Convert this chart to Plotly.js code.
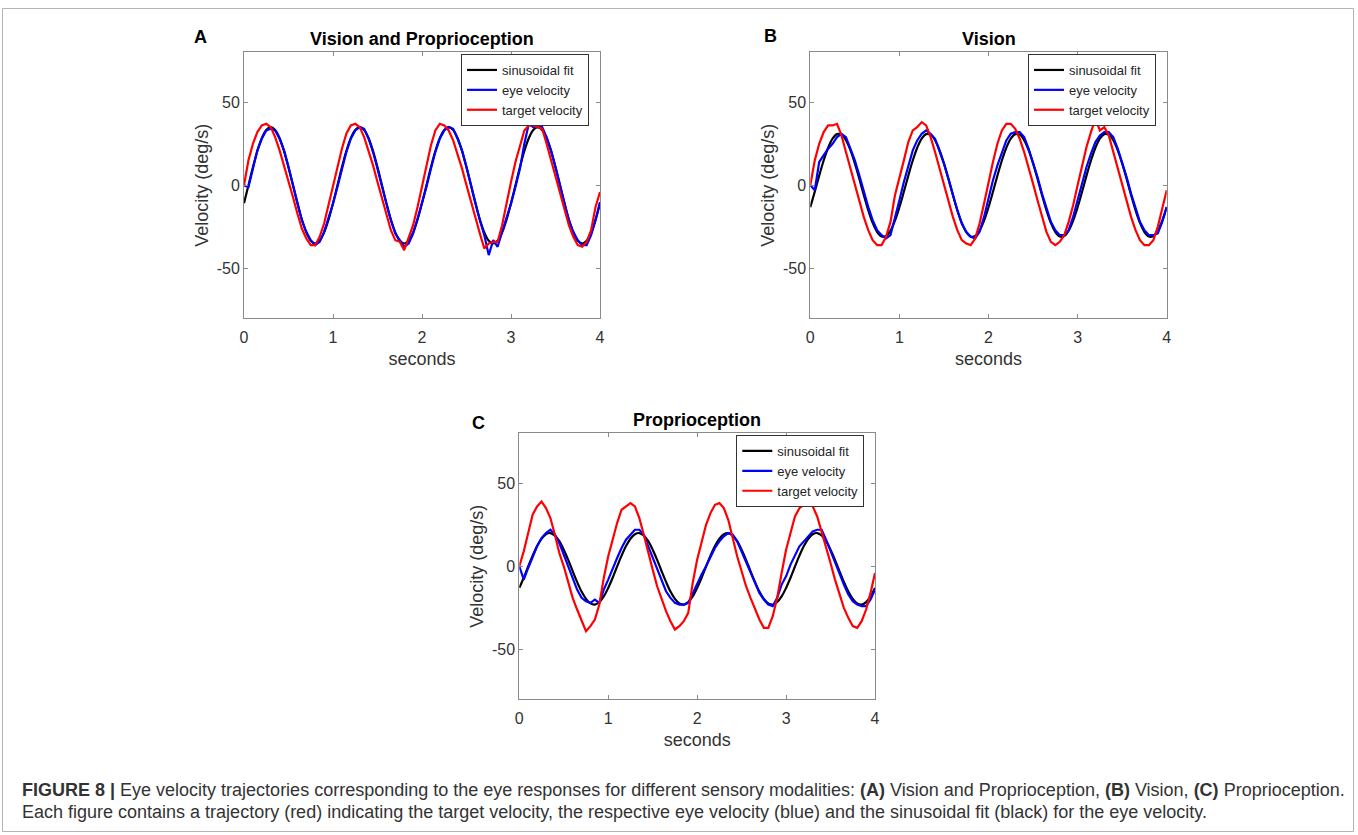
<!DOCTYPE html>
<html>
<head>
<meta charset="utf-8">
<script src="https://cdn.plot.ly/plotly-3.0.1.min.js"></script>
<style>
  html, body { margin: 0; padding: 0; background: #ffffff; }
  #chart { width: 1358px; height: 835px; }
</style>
</head>
<body>
<div id="chart"></div>
<script>
// ---------------- DATA ----------------
const seriesNames = ["sinusoidal fit", "eye velocity", "target velocity"];
const panelLetters = ["A", "B", "C"];
const panelTitles = ["Vision and Proprioception", "Vision", "Proprioception"];
const xTickVals = [0, 1, 2, 3, 4];
const yTickVals = [-50, 0, 50];
const xAxisLabel = "seconds";
const yAxisLabel = "Velocity (deg/s)";

const timeSec = [
  0,0.05,0.1,0.15,0.2,0.25,0.3,0.35,0.4,0.45,0.5,0.55,0.6,0.65,0.7,0.75,0.8,0.85,0.9,0.95,
  1,1.05,1.1,1.15,1.2,1.25,1.3,1.35,1.4,1.45,1.5,1.55,1.6,1.65,1.7,1.75,1.8,1.85,1.9,1.95,
  2,2.05,2.1,2.15,2.2,2.25,2.3,2.35,2.4,2.45,2.5,2.55,2.6,2.65,2.7,2.75,2.8,2.85,2.9,2.95,
  3,3.05,3.1,3.15,3.2,3.25,3.3,3.35,3.4,3.45,3.5,3.55,3.6,3.65,3.7,3.75,3.8,3.85,3.9,3.95,
  4
];

// Panel A: Vision and Proprioception
const fitA = [
  -10.8,0,10.8,20.6,28.3,33.3,35,33.3,28.3,20.6,10.8,0,-10.8,-20.6,-28.3,-33.3,-35,-33.3,-28.3,-20.6,
  -10.8,0,10.8,20.6,28.3,33.3,35,33.3,28.3,20.6,10.8,0,-10.8,-20.6,-28.3,-33.3,-35,-33.3,-28.3,-20.6,
  -10.8,0,10.8,20.6,28.3,33.3,35,33.3,28.3,20.6,10.8,0,-10.8,-20.6,-28.3,-33.3,-35,-33.3,-28.3,-20.6,
  -10.8,0,10.8,20.6,28.3,33.3,35,33.3,28.3,20.6,10.8,0,-10.8,-20.6,-28.3,-33.3,-35,-33.3,-28.3,-20.6,
  -10.8
];
const eyeA = [
  0,-1,10,21,28,33,34,33,28,21,11,0,-11,-21,-28,-33,-36,-34,-28,-20,
  -11,-1,10,20,28,33,35,34,28,20,10,-1,-11,-21,-29,-33,-37,-35,-29,-20,
  -11,-1,10,20,28,33,35,34,28,21,11,0,-11,-21,-30,-42,-33,-37,-28,-20,
  -11,-1,10,25,37,35,35,35,29,21,11,0,-11,-21,-28,-33,-36,-36,-30,-21,
  -10
];
const targetA = [
  0,15,25,32,36,37,35,29,21,12,3,-7,-17,-26,-32,-36,-36,-31,-23,-12,
  -1,11,22,31,36,37,35,29,21,12,2,-8,-18,-27,-33,-34,-39,-32,-24,-13,
  -1,12,24,33,37,36,33,27,19,10,0,-10,-20,-29,-38,-35,-34,-34,-24,-10,
  2,14,24,33,36,36,35,34,25,15,5,-5,-15,-24,-31,-36,-37,-34,-27,-13,
  -4
];

// Panel B: Vision
const fitB = [
  -13.2,-3.9,5.8,14.9,22.6,28.1,30.8,30.5,27.2,21.2,13.2,3.9,-5.8,-14.9,-22.6,-28.1,-30.8,-30.5,-27.2,-21.2,
  -13.2,-3.9,5.8,14.9,22.6,28.1,30.8,30.5,27.2,21.2,13.2,3.9,-5.8,-14.9,-22.6,-28.1,-30.8,-30.5,-27.2,-21.2,
  -13.2,-3.9,5.8,14.9,22.6,28.1,30.8,30.5,27.2,21.2,13.2,3.9,-5.8,-14.9,-22.6,-28.1,-30.8,-30.5,-27.2,-21.2,
  -13.2,-3.9,5.8,14.9,22.6,28.1,30.8,30.5,27.2,21.2,13.2,3.9,-5.8,-14.9,-22.6,-28.1,-30.8,-30.5,-27.2,-21.2,
  -13.2
];
const eyeB = [
  0,-3,14,18,22,25,29,31,29,22,15,6,-4,-13,-21,-27,-30,-32,-30,-20,
  -9,2,12,21,27,31,33,31,28,21,13,4,-6,-15,-23,-28,-31,-32,-28,-19,
  -8,3,12,20,27,31,32,32,29,22,14,5,-5,-14,-22,-27,-30,-30,-27,-19,
  -9,2,11,19,26,30,32,32,29,22,14,5,-5,-14,-22,-27,-30,-30,-29,-22,
  -13
];
const targetB = [
  0,15,25,32,36,36,37,30,20,10,0,-10,-19,-27,-33,-36,-36,-31,-22,-6,
  4,15,26,33,35,38,36,29,20,10,0,-10,-19,-27,-33,-35,-36,-32,-23,-11,
  2,14,25,33,37,37,34,28,20,11,1,-9,-19,-28,-34,-36,-34,-30,-22,-12,
  0,12,23,32,40,33,35,30,20,10,0,-10,-19,-27,-33,-36,-36,-33,-25,-14,
  -3
];

// Panel C: Proprioception
const fitC = [
  -13.0,-6.9,-0.1,6.4,12.2,16.6,19.3,20.0,18.5,15.1,10.0,3.9,-2.9,-9.4,-15.2,-19.6,-22.3,-23.0,-21.5,-18.1,
  -13.0,-6.9,-0.1,6.4,12.2,16.6,19.3,20.0,18.5,15.1,10.0,3.9,-2.9,-9.4,-15.2,-19.6,-22.3,-23.0,-21.5,-18.1,
  -13.0,-6.9,-0.1,6.4,12.2,16.6,19.3,20.0,18.5,15.1,10.0,3.9,-2.9,-9.4,-15.2,-19.6,-22.3,-23.0,-21.5,-18.1,
  -13.0,-6.9,-0.1,6.4,12.2,16.6,19.3,20.0,18.5,15.1,10.0,3.9,-2.9,-9.4,-15.2,-19.6,-22.3,-23.0,-21.5,-18.1,
  -13.0
];
const eyeC = [
  0,-8,-1,6,12,17,20,22,19,14,7,0,-7,-14,-19,-21,-22,-20,-22,-14,
  -8,-1,5,11,16,19,22,22,19,12,5,-2,-9,-15,-19,-22,-23,-23,-22,-16,
  -11,-5,0,6,11,15,18,20,19,15,9,2,-4,-10,-16,-20,-23,-24,-19,-11,
  -6,1,7,12,15,18,21,22,22,16,9,2,-5,-11,-17,-21,-23,-24,-24,-20,
  -14
];
const targetC = [
  0,9,20,31,36,39,35,29,19,8,0,-9,-19,-26,-33,-39,-36,-32,-23,-7,
  6,16,26,34,36,38,36,29,19,8,-2,-12,-20,-27,-33,-38,-36,-33,-28,-10,
  4,15,25,32,37,38,35,28,17,6,-3,-12,-19,-26,-32,-37,-37,-30,-19,-4,
  10,20,30,35,37,38,36,30,21,12,2,-8,-17,-25,-31,-36,-37,-33,-26,-16,
  -4
];

const captionLine1 = "<b>FIGURE 8 |</b> Eye velocity trajectories corresponding to the eye responses for different sensory modalities: <b>(A)</b> Vision and Proprioception, <b>(B)</b> Vision, <b>(C)</b> Proprioception.";
const captionLine2 = "Each figure contains a trajectory (red) indicating the target velocity, the respective eye velocity (blue) and the sinusoidal fit (black) for the eye velocity.";

// ---------------- LAYOUT HELPERS ----------------
const W = 1358, H = 835;
const px = x => x / W;
const py = y => 1 - y / H;

const panels = [
  { fit: fitA, eye: eyeA, target: targetA, box: [244, 600, 52.3, 318.3], legend: [589, 54] },
  { fit: fitB, eye: eyeB, target: targetB, box: [810.3, 1166.7, 52.3, 318.3], legend: [1156, 54] },
  { fit: fitC, eye: eyeC, target: targetC, box: [519.3, 875, 433.3, 699.3], legend: [864.3, 435] }
];
const letterPos = [[200, 36.5], [770, 36], [478, 423]];
const colors = ["#000000", "#0000ff", "#ff0000"];

const FONT = "Liberation Sans, Arial, Helvetica, sans-serif";
const traces = [];
const layout = {
  width: W, height: H,
  margin: { l: 0, r: 0, t: 0, b: 0 },
  paper_bgcolor: "#ffffff",
  plot_bgcolor: "#ffffff",
  showlegend: true,
  font: { family: FONT, color: "#262626" },
  annotations: [],
  shapes: [{
    type: "rect", xref: "paper", yref: "paper",
    x0: px(2.5), x1: px(1353.5), y0: py(831.5), y1: py(8.5),
    line: { color: "#b4b4b4", width: 1 }
  }]
};

panels.forEach((p, i) => {
  const n = i === 0 ? "" : String(i + 1);
  const xa = "x" + n, ya = "y" + n;
  const lg = i === 0 ? "legend" : "legend" + (i + 1);
  const ys = [p.fit, p.eye, p.target];
  ys.forEach((yv, k) => {
    traces.push({
      type: "scatter", mode: "lines",
      x: timeSec, y: yv,
      xaxis: xa, yaxis: ya,
      name: seriesNames[k],
      legend: lg,
      line: { color: colors[k], width: 2.2, shape: k === 0 ? "spline" : "linear" },
      hoverinfo: "skip"
    });
  });
  const axCommon = {
    showline: true, mirror: "ticks", linecolor: "#8a8a8a", linewidth: 1,
    ticks: "inside", ticklen: 4, tickcolor: "#8a8a8a", tickwidth: 1,
    showgrid: false, zeroline: false, fixedrange: true,
    tickfont: { family: FONT, size: 16, color: "#333333" }
  };
  layout["xaxis" + n] = Object.assign({}, axCommon, {
    domain: [px(p.box[0]), px(p.box[1])],
    anchor: ya, range: [0, 4], tickmode: "array", tickvals: xTickVals,
    ticktext: xTickVals.map(String), ticklabelstandoff: 4,
    title: { text: xAxisLabel, font: { family: FONT, size: 18, color: "#333333" }, standoff: 7 }
  });
  layout["yaxis" + n] = Object.assign({}, axCommon, {
    domain: [py(p.box[3]), py(p.box[2])],
    anchor: xa, range: [-80, 80], tickmode: "array", tickvals: yTickVals,
    ticktext: yTickVals.map(String),
    title: { text: yAxisLabel, font: { family: FONT, size: 18, color: "#333333" }, standoff: 3 }
  });
  layout[lg] = {
    x: px(p.legend[0]), xanchor: "right",
    y: py(p.legend[1]), yanchor: "top",
    bgcolor: "#ffffff", bordercolor: "#333333", borderwidth: 1,
    font: { family: FONT, size: 13, color: "#262626" },
    tracegroupgap: 0, itemwidth: 30
  };
  // panel title
  const cx = (p.box[0] + p.box[1]) / 2;
  const ty = p.box[2] - 13.5;
  layout.annotations.push({
    xref: "paper", yref: "paper", x: px(cx), y: py(ty),
    xanchor: "center", yanchor: "middle", showarrow: false,
    text: "<b>" + panelTitles[i] + "</b>",
    font: { family: FONT, size: 18, color: "#000000" }
  });
  layout.annotations.push({
    xref: "paper", yref: "paper", x: px(letterPos[i][0]), y: py(letterPos[i][1]),
    xanchor: "center", yanchor: "middle", showarrow: false,
    text: "<b>" + panelLetters[i] + "</b>",
    font: { family: FONT, size: 18, color: "#000000" }
  });
});

const CAPFONT = "Liberation Sans, Arial, sans-serif";
layout.annotations.push({
  xref: "paper", yref: "paper", x: px(20), y: py(790),
  xanchor: "left", yanchor: "middle", showarrow: false,
  text: captionLine1, font: { family: CAPFONT, size: 18, color: "#333333" }
});
layout.annotations.push({
  xref: "paper", yref: "paper", x: px(20), y: py(812),
  xanchor: "left", yanchor: "middle", showarrow: false,
  text: captionLine2, font: { family: CAPFONT, size: 18, color: "#333333" }
});

Plotly.newPlot("chart", traces, layout, { displayModeBar: false, staticPlot: true });
</script>
</body>
</html>
